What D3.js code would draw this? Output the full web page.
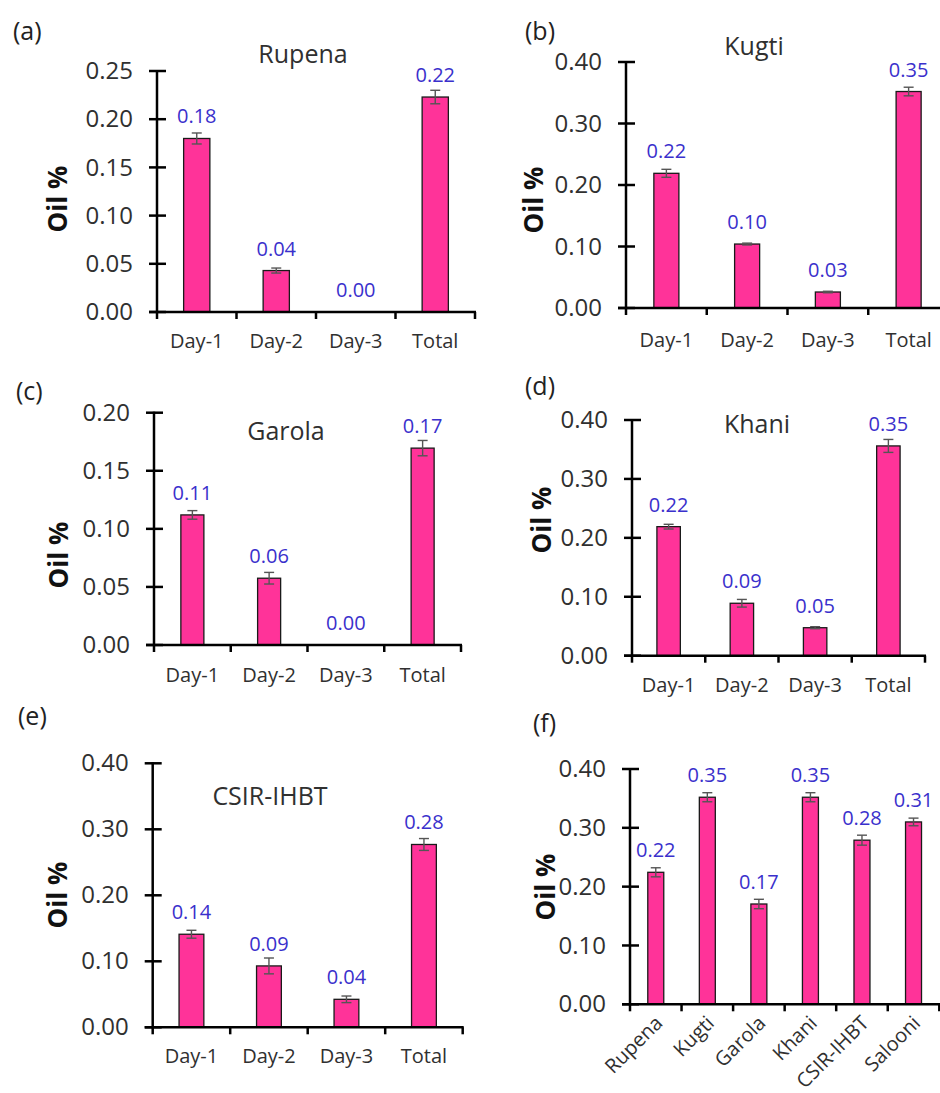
<!DOCTYPE html>
<html>
<head>
<meta charset="utf-8">
<script src="https://cdn.jsdelivr.net/npm/d3@7"></script>
<style>
  body { margin: 0; background: #fff; }
  svg { display: block; font-family: "Open Sans", "Noto Sans", sans-serif; }
</style>
</head>
<body>
<svg id="chart" width="940" height="1093"></svg>
<script>
// ---------- data ----------
const dayCategories = ["Day-1", "Day-2", "Day-3", "Total"];
const varietyCategories = ["Rupena", "Kugti", "Garola", "Khani", "CSIR-IHBT", "Salooni"];

const rupenaValues = [0.180, 0.043, 0.000, 0.223];
const rupenaErrors = [0.0057, 0.0026, 0.0, 0.007];
const rupenaLabels = ["0.18", "0.04", "0.00", "0.22"];

const kugtiValues = [0.219, 0.104, 0.026, 0.352];
const kugtiErrors = [0.0065, 0.0015, 0.0012, 0.007];
const kugtiLabels = ["0.22", "0.10", "0.03", "0.35"];

const garolaValues = [0.112, 0.0575, 0.000, 0.1695];
const garolaErrors = [0.0037, 0.005, 0.0, 0.0066];
const garolaLabels = ["0.11", "0.06", "0.00", "0.17"];

const khaniValues = [0.219, 0.089, 0.0475, 0.356];
const khaniErrors = [0.004, 0.0065, 0.0017, 0.011];
const khaniLabels = ["0.22", "0.09", "0.05", "0.35"];

const csirValues = [0.141, 0.093, 0.0424, 0.277];
const csirErrors = [0.006, 0.012, 0.005, 0.009];
const csirLabels = ["0.14", "0.09", "0.04", "0.28"];

const totalValues = [0.2244, 0.352, 0.1705, 0.352, 0.279, 0.310];
const totalErrors = [0.0077, 0.0077, 0.008, 0.0077, 0.0085, 0.0065];
const totalLabels = ["0.22", "0.35", "0.17", "0.35", "0.28", "0.31"];

const ticks025 = [0, 0.05, 0.10, 0.15, 0.20, 0.25];
const ticks020 = [0, 0.05, 0.10, 0.15, 0.20];
const ticks040 = [0, 0.10, 0.20, 0.30, 0.40];

// ---------- layout ----------
const panels = [
  { letter: "(a)", title: "Rupena", cats: dayCategories, vals: rupenaValues, errs: rupenaErrors, labels: rupenaLabels, ticks: ticks025, max: 0.25,
    x0: 157, x1: 475, yTop: 71, yBot: 312, titleX: 303, titleY: 63, letterX: 13, letterY: 40, oilX: 57, oilY: 199, xlabY: 348, barFrac: 0.33 },
  { letter: "(b)", title: "Kugti", cats: dayCategories, vals: kugtiValues, errs: kugtiErrors, labels: kugtiLabels, ticks: ticks040, max: 0.40,
    x0: 626, x1: 949, yTop: 62, yBot: 308, titleX: 754, titleY: 55, letterX: 525, letterY: 40, oilX: 533, oilY: 200, xlabY: 347, barFrac: 0.31 },
  { letter: "(c)", title: "Garola", cats: dayCategories, vals: garolaValues, errs: garolaErrors, labels: garolaLabels, ticks: ticks020, max: 0.20,
    x0: 154, x1: 461, yTop: 412.7, yBot: 645, titleX: 286, titleY: 440, letterX: 16, letterY: 400, oilX: 58, oilY: 555, xlabY: 682, barFrac: 0.30 },
  { letter: "(d)", title: "Khani", cats: dayCategories, vals: khaniValues, errs: khaniErrors, labels: khaniLabels, ticks: ticks040, max: 0.40,
    x0: 632, x1: 925, yTop: 420, yBot: 655.7, titleX: 757, titleY: 433, letterX: 525, letterY: 395, oilX: 541, oilY: 520, xlabY: 692, barFrac: 0.32 },
  { letter: "(e)", title: "CSIR-IHBT", cats: dayCategories, vals: csirValues, errs: csirErrors, labels: csirLabels, ticks: ticks040, max: 0.40,
    x0: 152.7, x1: 462.7, yTop: 763.3, yBot: 1027.3, titleX: 270, titleY: 805, letterX: 18, letterY: 725, oilX: 57, oilY: 895, xlabY: 1063, barFrac: 0.32 },
  { letter: "(f)", title: "", cats: varietyCategories, vals: totalValues, errs: totalErrors, labels: totalLabels, ticks: ticks040, max: 0.40,
    x0: 630, x1: 939.3, yTop: 769, yBot: 1004.3, titleX: 0, titleY: 0, letterX: 533, letterY: 732, oilX: 545, oilY: 887, xlabY: 0, barFrac: 0.31, rotate: true }
];

const svg = d3.select("#chart");
const barFill = "#FF3399";
const labelBlue = "#3a30cc";
const textGray = "#303030";

panels.forEach(p => {
  const g = svg.append("g");
  const x = d3.scaleBand().domain(p.cats).range([p.x0, p.x1]).paddingInner(0).paddingOuter(0);
  const y = d3.scaleLinear().domain([0, p.max]).range([p.yBot, p.yTop]);
  const bw = x.bandwidth() * p.barFrac;

  // panel letter
  g.append("text").attr("x", p.letterX).attr("y", p.letterY)
    .attr("font-size", 25).attr("fill", "#222").text(p.letter);

  // title
  if (p.title) {
    g.append("text").attr("x", p.titleX).attr("y", p.titleY)
      .attr("text-anchor", "middle").attr("font-size", 25).attr("fill", textGray).text(p.title);
  }

  // y axis label
  g.append("text")
    .attr("transform", `translate(${p.oilX},${p.oilY}) rotate(-90)`)
    .attr("text-anchor", "middle").attr("dominant-baseline", "central")
    .attr("font-size", 26).attr("font-weight", "bold").attr("fill", "#111").text("Oil %");

  // bars
  p.vals.forEach((v, i) => {
    const cx = x(p.cats[i]) + x.bandwidth() / 2;
    if (v > 0) {
      g.append("rect")
        .attr("x", cx - bw / 2).attr("y", y(v))
        .attr("width", bw).attr("height", y(0) - y(v))
        .attr("fill", barFill).attr("stroke", "#1a1a1a").attr("stroke-width", 1.3);
      const e = p.errs[i];
      if (e > 0) {
        const eg = g.append("g").attr("stroke", "#555").attr("stroke-width", 1.4);
        eg.append("line").attr("x1", cx).attr("x2", cx).attr("y1", y(v + e)).attr("y2", y(v - e));
        eg.append("line").attr("x1", cx - 5).attr("x2", cx + 5).attr("y1", y(v + e)).attr("y2", y(v + e));
        eg.append("line").attr("x1", cx - 5).attr("x2", cx + 5).attr("y1", y(v - e)).attr("y2", y(v - e));
      }
    }
    g.append("text").attr("x", cx).attr("y", y(v) - 15)
      .attr("text-anchor", "middle").attr("font-size", 20).attr("fill", labelBlue).text(p.labels[i]);
  });

  // y axis
  const yAxis = d3.axisLeft(y).tickValues(p.ticks).tickFormat(d3.format(".2f")).tickSize(0).tickPadding(24);
  const ya = g.append("g").attr("transform", `translate(${p.x0},0)`).call(yAxis);
  ya.select(".domain").remove();
  ya.selectAll("text").attr("font-size", 24).attr("fill", textGray).attr("font-family", "Open Sans, sans-serif");
  p.ticks.forEach(t => {
    g.append("line").attr("x1", p.x0 - 8).attr("x2", p.x0 + 9).attr("y1", y(t)).attr("y2", y(t))
      .attr("stroke", "#000").attr("stroke-width", 2.5);
  });
  g.append("line").attr("x1", p.x0).attr("x2", p.x0).attr("y1", y(p.max) - 1).attr("y2", y(0) + 1)
    .attr("stroke", "#000").attr("stroke-width", 2.5);

  // x axis
  g.append("line").attr("x1", p.x0 - 8).attr("x2", p.x1 + 1).attr("y1", y(0)).attr("y2", y(0))
    .attr("stroke", "#000").attr("stroke-width", 2.5);
  const edges = p.cats.map(c => x(c)).concat([p.x1]);
  edges.forEach(ex => {
    g.append("line").attr("x1", ex).attr("x2", ex).attr("y1", y(0)).attr("y2", y(0) + 7)
      .attr("stroke", "#000").attr("stroke-width", 2.5);
  });

  // x labels
  p.cats.forEach(c => {
    const cx = x(c) + x.bandwidth() / 2;
    if (p.rotate) {
      g.append("text")
        .attr("transform", `translate(${cx + 8},${y(0) + 20}) rotate(-45)`)
        .attr("text-anchor", "end").attr("font-size", 20).attr("fill", textGray).text(c);
    } else {
      g.append("text").attr("x", cx).attr("y", p.xlabY)
        .attr("text-anchor", "middle").attr("font-size", 20).attr("fill", textGray).text(c);
    }
  });
});
</script>
</body>
</html>
